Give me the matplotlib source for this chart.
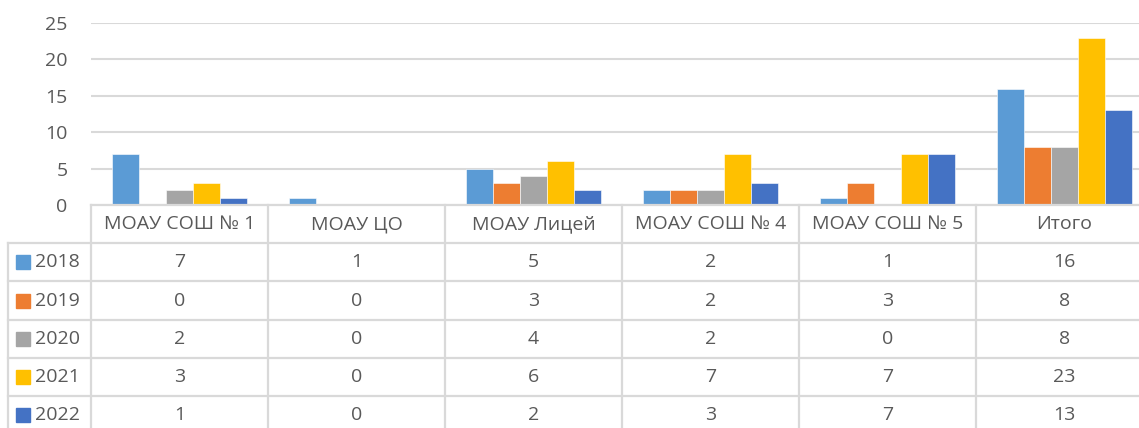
import matplotlib
matplotlib.use("Agg")
import matplotlib.pyplot as plt
from matplotlib.patches import Rectangle
from matplotlib.lines import Line2D
import numpy as np

# data
categories = ["МОАУ СОШ № 1", "МОАУ ЦО", "МОАУ Лицей", "МОАУ СОШ № 4", "МОАУ СОШ № 5", "Итого"]
years = ["2018", "2019", "2020", "2021", "2022"]
v2018 = [7, 1, 5, 2, 1, 16]
v2019 = [0, 0, 3, 2, 3, 8]
v2020 = [2, 0, 4, 2, 0, 8]
v2021 = [3, 0, 6, 7, 7, 23]
v2022 = [1, 0, 2, 3, 7, 13]
series = [v2018, v2019, v2020, v2021, v2022]
colors = ["#5B9BD5", "#ED7D31", "#A5A5A5", "#FFC000", "#4472C4"]
yticks = [0, 5, 10, 15, 20, 25]

W, H = 1139, 428
FONT = "Open Sans"
FS = 14
TXT = "#595959"
GRID = "#D9D9D9"

plt.rcParams["font.family"] = [FONT, "DejaVu Sans"]

fig = plt.figure(figsize=(W / 100, H / 100), dpi=100)

# layout in pixels (Excel chart with data table, right side is cropped)
x0 = 91          # left edge of plot area
col_w = 177      # width of one category column
y_axis = 205     # pixel row of the value 0
y_top = 23       # pixel row of the value 25
leg_x = 8        # left edge of legend column
row_h = 38.2


def fx(px):
    return px / W


def fy(py):
    return 1 - py / H


ax = fig.add_axes([fx(x0), fy(y_axis), fx(col_w * len(categories)), (y_axis - y_top) / H])
n = len(years)
bw = 27 / col_w
x = np.arange(len(categories))
for j, (vals, c) in enumerate(zip(series, colors)):
    ax.bar(x + (j - (n - 1) / 2) * bw, vals, width=bw, color=c,
           edgecolor="white", linewidth=0.4, zorder=3)

ax.set_xlim(-0.5, len(categories) - 0.5)
ax.set_ylim(0, 25)
ax.set_yticks(yticks)
ax.set_xticks([])
ax.yaxis.grid(True, color=GRID, linewidth=1.5, zorder=0)
ax.tick_params(axis="y", length=0, pad=17, labelsize=FS, labelcolor=TXT)
for s in ax.spines.values():
    s.set_visible(False)

# data table
lw = 1.6
right = x0 + col_w * len(categories) + 5
bottom = H + 5
rows_y = [y_axis + row_h * (k + 1) for k in range(n)]

fig.add_artist(Line2D([fx(x0), fx(right)], [fy(y_axis), fy(y_axis)], color=GRID, lw=lw))
for ry in rows_y:
    fig.add_artist(Line2D([fx(leg_x), fx(right)], [fy(ry), fy(ry)], color=GRID, lw=lw))
fig.add_artist(Line2D([fx(leg_x), fx(leg_x)], [fy(rows_y[0]), fy(bottom)], color=GRID, lw=lw))
for k in range(len(categories) + 1):
    cx = x0 + col_w * k
    fig.add_artist(Line2D([fx(cx), fx(cx)], [fy(y_axis), fy(bottom)], color=GRID, lw=lw))

for i, cat in enumerate(categories):
    cx = x0 + col_w * (i + 0.5)
    fig.text(fx(cx), fy(y_axis + row_h / 2), cat, ha="center", va="center",
             fontsize=FS, color=TXT)
    for j, vals in enumerate(series):
        fig.text(fx(cx), fy(rows_y[j] + row_h / 2), str(vals[i]), ha="center",
                 va="center", fontsize=FS, color=TXT)

for j, (yr, c) in enumerate(zip(years, colors)):
    cy = rows_y[j] + row_h / 2
    fig.add_artist(Rectangle((fx(16), fy(cy + 7)), fx(14), 14 / H, color=c))
    fig.text(fx(35), fy(cy), yr, ha="left", va="center", fontsize=FS, color=TXT)

fig.savefig("out.png", dpi=100)
